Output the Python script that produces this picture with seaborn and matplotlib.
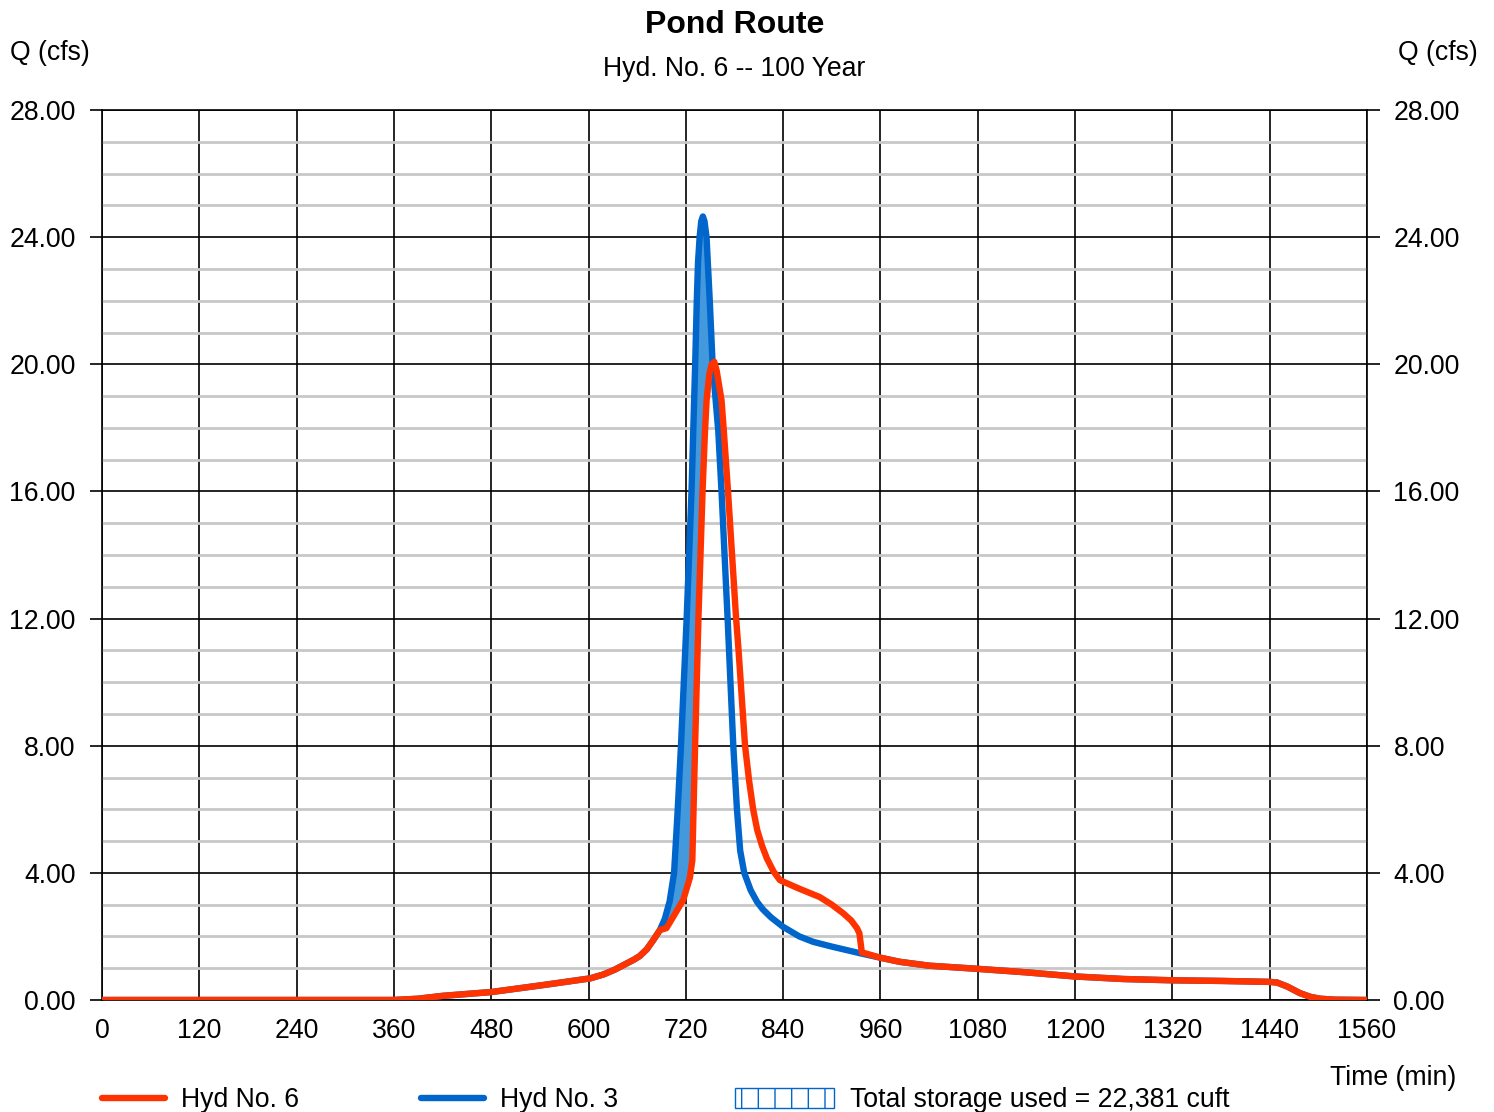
import numpy as np
import seaborn as sns
import matplotlib.pyplot as plt
from matplotlib.lines import Line2D
from matplotlib.patches import Patch

# common rising limb (inflow and outflow identical here)
base_t = [0, 360, 390, 420, 480, 544, 602, 618, 632, 647, 656, 663, 672, 680, 688]
base_q = [0.00, 0.00, 0.04, 0.13, 0.25, 0.47, 0.68, 0.80, 0.95, 1.15, 1.27, 1.38, 1.60, 1.89, 2.20]

# Hyd No. 3 (inflow) around the peak
in3_t = [694, 700, 705.5, 710, 714, 721, 727, 731.5, 733.5, 735, 737, 739, 741, 743, 745.5,
         749.5, 753, 760, 764, 771.5, 778.5, 783, 787, 792, 800, 808, 815, 825, 840, 860, 877, 900, 935]
in3_q = [2.55, 3.10, 4.00, 6.00, 8.00, 12.0, 16.0, 20.0, 22.0, 23.2, 24.0, 24.5, 24.65, 24.5, 24.0,
         22.0, 20.0, 17.9, 16.0, 12.0, 8.0, 6.0, 4.7, 4.0, 3.45, 3.08, 2.85, 2.6, 2.3, 2.0, 1.83, 1.68, 1.47]

# Hyd No. 6 (routed outflow) around the peak
out6_t = [696, 704.5, 716.8, 725, 728, 729.5, 731.4, 734.5, 735.5, 740.6, 743.5, 745.6, 749, 752,
          755, 758, 764, 767, 772, 782, 785, 793, 798, 803, 808, 814, 820, 828, 836, 860, 885, 900,
          914, 924, 931, 934, 937]
out6_q = [2.26, 2.62, 3.15, 3.85, 4.40, 6.00, 8.00, 11.0, 12.0, 16.0, 17.84, 18.87, 19.7, 20.0,
          20.08, 19.8, 18.87, 17.84, 16.0, 12.0, 11.0, 8.0, 6.9, 6.0, 5.35, 4.85, 4.45, 4.05, 3.77,
          3.5, 3.24, 3.0, 2.73, 2.5, 2.26, 2.1, 1.5]

# common recession tail
tail_t = [960, 984, 1020, 1080, 1140, 1200, 1260, 1320, 1380, 1440, 1449, 1462, 1477, 1490, 1502, 1520, 1560]
tail_q = [1.33, 1.20, 1.08, 0.98, 0.87, 0.74, 0.66, 0.62, 0.60, 0.57, 0.55, 0.42, 0.22, 0.10, 0.04, 0.01, 0.00]

hyd3_t = np.array(base_t + in3_t + tail_t, dtype=float)
hyd3_q = np.array(base_q + in3_q + tail_q)
hyd6_t = np.array(base_t + out6_t + tail_t, dtype=float)
hyd6_q = np.array(base_q + out6_q + tail_q)

x_ticks = list(range(0, 1561, 120))
y_ticks = [0, 4, 8, 12, 16, 20, 24, 28]

RED = '#ff3300'
BLUE = '#0066cc'
FILL = '#4499dd'

plt.rcParams['font.family'] = ['Liberation Sans', 'DejaVu Sans']
plt.rcParams['hatch.linewidth'] = 1.0
FS = 19.2
LW = 4.6

fig = plt.figure(figsize=(14.94, 11.12), dpi=100)
ax = fig.add_axes([102 / 1494, 1 - 1000 / 1112, 1265 / 1494, 890 / 1112])

# storage area: where inflow is above outflow
t_all = np.union1d(hyd3_t, hyd6_t)
q3 = np.interp(t_all, hyd3_t, hyd3_q)
q6 = np.interp(t_all, hyd6_t, hyd6_q)
ax.fill_between(t_all, q6, q3, where=q3 > q6, interpolate=True, color=FILL, lw=0, zorder=2)

sns.lineplot(x=hyd3_t, y=hyd3_q, ax=ax, color=BLUE, linewidth=LW, estimator=None, zorder=3,
             solid_capstyle='round', solid_joinstyle='round')
sns.lineplot(x=hyd6_t, y=hyd6_q, ax=ax, color=RED, linewidth=LW, estimator=None, zorder=4,
             solid_capstyle='round', solid_joinstyle='round')

ax.set_xlim(0, 1560)
ax.set_ylim(0, 28)
ax.set_xticks(x_ticks)
ax.set_xticklabels([str(v) for v in x_ticks])
ax.set_yticks(y_ticks)
ax.set_yticklabels(['%.2f' % v for v in y_ticks])
ax.set_yticks(np.arange(0, 28.01, 1), minor=True)
ax.grid(which='major', color='black', lw=1.2, zorder=1)
ax.yaxis.grid(which='minor', color='#c8c8c8', lw=2)
ax.set_axisbelow(True)
ax.tick_params(axis='y', which='major', left=True, right=True, labelleft=True, labelright=True,
               direction='out', length=9, width=1.2, pad=10, labelsize=FS)
ax.tick_params(axis='y', which='minor', length=0)
ax.tick_params(axis='x', length=0, pad=13, labelsize=FS)
for s in ax.spines.values():
    s.set_color('black')
    s.set_linewidth(1.2)
ax.set_xlabel('')
ax.set_ylabel('')

fig.text(735 / 1494, 1 - 25 / 1112, 'Pond Route', ha='center', va='center', fontsize=23, fontweight='bold')
fig.text(734 / 1494, 1 - 69 / 1112, 'Hyd. No. 6 -- 100 Year', ha='center', va='center', fontsize=FS)
fig.text(10 / 1494, 1 - 53 / 1112, 'Q (cfs)', ha='left', va='center', fontsize=FS)
fig.text(1478 / 1494, 1 - 53 / 1112, 'Q (cfs)', ha='right', va='center', fontsize=FS)
fig.text(1456 / 1494, 1 - 1078 / 1112, 'Time (min)', ha='right', va='center', fontsize=FS)

lines = [Line2D([], [], color=RED, lw=LW, solid_capstyle='round'),
         Line2D([], [], color=BLUE, lw=LW, solid_capstyle='round')]
fig.legend(lines, ['Hyd No. 6', 'Hyd No. 3'], loc='center left',
           bbox_to_anchor=(102 / 1494, 1 - 1100 / 1112), ncol=2, frameon=False,
           fontsize=FS, handlelength=2.35, handletextpad=0.6, columnspacing=4.6,
           borderpad=0, borderaxespad=0)
patch = Patch(facecolor='white', edgecolor=BLUE, hatch='|', lw=1)
fig.legend([patch], ['Total storage used = 22,381 cuft'], loc='center left',
           bbox_to_anchor=(735 / 1494, 1 - 1100 / 1112), frameon=False, fontsize=FS,
           handlelength=3.7, handleheight=0.8, handletextpad=0.6, borderpad=0, borderaxespad=0)

fig.savefig('out.png', dpi=100)
